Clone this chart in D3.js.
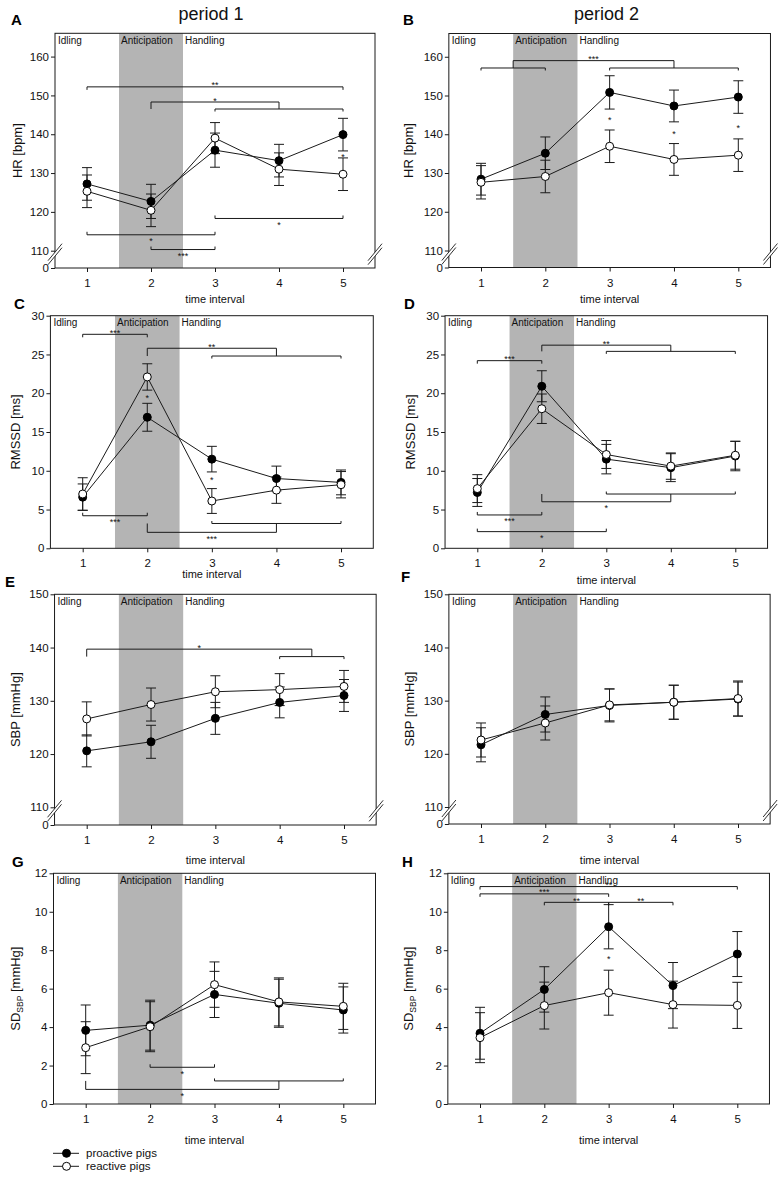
<!DOCTYPE html>
<html><head><meta charset="utf-8">
<script src="https://cdn.jsdelivr.net/npm/d3@7"></script>
<style>
body{margin:0;background:#fff}
svg{display:block}
text{font-family:"Liberation Sans",Arial,sans-serif}
</style>
</head><body><svg id="c" width="783" height="1180"></svg>
<script>
// ---------- DATA ----------
const timeIntervals = [1, 2, 3, 4, 5];
const phaseLabels = ["Idling", "Anticipation", "Handling"];
const periodTitles = ["period 1", "period 2"];
const seriesNames = ["proactive pigs", "reactive pigs"];

const hrTicks = [0, 110, 120, 130, 140, 150, 160];
const rmssdTicks = [0, 5, 10, 15, 20, 25, 30];
const sbpTicks = [0, 110, 120, 130, 140, 150];
const sdTicks = [0, 2, 4, 6, 8, 10, 12];

// HR period 1 (A)
const hrP1Pro = [127.2, 122.7, 135.9, 133.2, 139.9];
const hrP1ProSE = [4.2, 4.4, 4.4, 4.2, 4.2];
const hrP1Rea = [125.3, 120.4, 139.0, 131.0, 129.7];
const hrP1ReaSE = [4.2, 4.2, 4.0, 4.2, 4.2];
// HR period 2 (B)
const hrP2Pro = [128.4, 135.1, 150.8, 147.3, 149.6];
const hrP2ProSE = [4.1, 4.2, 4.3, 4.1, 4.2];
const hrP2Rea = [127.6, 129.1, 136.9, 133.5, 134.6];
const hrP2ReaSE = [4.3, 4.2, 4.2, 4.1, 4.2];
// RMSSD period 1 (C)
const rmP1Pro = [6.6, 16.9, 11.5, 9.0, 8.5];
const rmP1ProSE = [1.7, 1.8, 1.65, 1.6, 1.6];
const rmP1Rea = [7.0, 22.1, 6.1, 7.5, 8.2];
const rmP1ReaSE = [2.1, 1.7, 1.6, 1.7, 1.7];
// RMSSD period 2 (D)
const rmP2Pro = [7.2, 20.9, 11.5, 10.4, 11.9];
const rmP2ProSE = [1.8, 2.0, 1.9, 1.8, 1.9];
const rmP2Rea = [7.7, 18.0, 12.1, 10.6, 12.0];
const rmP2ReaSE = [1.8, 1.9, 1.8, 1.7, 1.8];
// SBP period 1 (E)
const sbpP1Pro = [120.6, 122.3, 126.7, 129.7, 131.0];
const sbpP1ProSE = [3.0, 3.1, 3.0, 2.9, 3.0];
const sbpP1Rea = [126.6, 129.3, 131.7, 132.1, 132.7];
const sbpP1ReaSE = [3.2, 3.1, 3.0, 3.0, 3.0];
// SBP period 2 (F)
const sbpP2Pro = [121.7, 127.4, 129.1, 129.7, 130.3];
const sbpP2ProSE = [3.2, 3.3, 3.1, 3.2, 3.2];
const sbpP2Rea = [122.6, 125.8, 129.2, 129.7, 130.4];
const sbpP2ReaSE = [3.2, 3.2, 3.0, 3.2, 3.3];
// SD SBP period 1 (G)
const sdP1Pro = [3.83, 4.10, 5.70, 5.24, 4.89];
const sdP1ProSE = [1.32, 1.3, 1.2, 1.25, 1.2];
const sdP1Rea = [2.93, 4.02, 6.21, 5.31, 5.08];
const sdP1ReaSE = [1.35, 1.3, 1.18, 1.25, 1.2];
// SD SBP period 2 (H)
const sdP2Pro = [3.68, 5.96, 9.22, 6.16, 7.80];
const sdP2ProSE = [1.35, 1.18, 1.15, 1.2, 1.17];
const sdP2Rea = [3.45, 5.12, 5.79, 5.17, 5.13];
const sdP2ReaSE = [1.3, 1.22, 1.17, 1.22, 1.2];

// significance brackets (l/r: interval or [from,to] group; y: level)
const hrP1Brackets = [
  {l: 1, r: 5, y: 152.2, dir: "down", label: "**"},
  {l: 2, r: [3, 5], y: 148.3, ySub: 146.5, label: "*"},
  {l: 3, r: 5, y: 118.3, dir: "up", label: "*"},
  {l: 1, r: 3, y: 114.1, dir: "up", label: "*"},
  {l: 2, r: 3, y: 110.3, dir: "up", label: "***"}
];
const hrP2Brackets = [
  {l: [1, 2], r: [3, 5], y: 159.0, ySub: 157.1, label: "***"}
];
const rmP1Brackets = [
  {l: 1, r: 2, y: 27.6, dir: "down", label: "***"},
  {l: 2, r: [3, 5], y: 25.8, ySub: 24.8, label: "**"},
  {l: 1, r: 2, y: 4.2, dir: "up", label: "***"},
  {l: 2, r: [3, 5], y: 2.06, ySub: 3.2, label: "***"}
];
const rmP2Brackets = [
  {l: 2, r: [3, 5], y: 26.2, ySub: 25.4, label: "**"},
  {l: 1, r: 2, y: 24.2, dir: "down", label: "***"},
  {l: 2, r: [3, 5], y: 6.0, ySub: 7.0, label: "*"},
  {l: 1, r: 2, y: 4.3, dir: "up", label: "***"},
  {l: 1, r: 3, y: 2.15, dir: "up", label: "*"}
];
const sbpP1Brackets = [
  {l: 1, r: [4, 5], y: 139.7, ySub: 138.3, label: "*"}
];
const sbpP2Brackets = [];
const sdP1Brackets = [
  {l: 2, r: 3, y: 1.91, dir: "up", label: "*"},
  {l: 1, r: [3, 5], y: 0.76, ySub: 1.2, label: "*"}
];
const sdP2Brackets = [
  {l: 1, r: 5, y: 11.31, dir: "down", label: "**"},
  {l: 1, r: 3, y: 10.93, dir: "down", label: "***"},
  {l: 2, r: 3, y: 10.49, dir: "down", label: "**"},
  {l: 3, r: 4, y: 10.49, dir: "down", label: "**"}
];
// group-difference markers [interval, value]
const hrP1Marks = [[5, 134.7]];
const hrP2Marks = [[3, 144.2], [4, 140.6], [5, 142.2]];
const rmP1Marks = [[2, 19.6], [3, 9.1]];
const rmP2Marks = [];
const sbpP1Marks = [];
const sbpP2Marks = [];
const sdP1Marks = [];
const sdP2Marks = [[3, 7.63]];

// ---------- DRAWING ----------
const svg = d3.select("#c");
const INK = "#1a1a1a";

function drawPanel(c) {
  const x = d3.scaleLinear().domain([1, 5]).range([c.x1, c.x5]);
  const y = d3.scaleLinear().domain(c.yDomain).range(c.yRange);
  const L = x(0.5), R = x(5.5);
  const B = c.yRange[0], T = c.yRange[c.yRange.length - 1];
  const g = svg.append("g");

  // shaded anticipation phase
  g.append("rect").attr("x", x(1.5)).attr("y", T)
    .attr("width", x(2.5) - x(1.5)).attr("height", B - T).attr("fill", "#b4b4b4");

  // phase labels
  const phaseX = [L + 3, x(1.5) + 2, x(2.5) + 2];
  g.selectAll(".ph").data(phaseLabels).enter().append("text")
    .attr("x", (d, i) => phaseX[i]).attr("y", T + 10.5)
    .attr("font-size", "10px").attr("fill", "#111").text(d => d);

  // axes
  const ya = d3.axisLeft(y).tickValues(c.ticks).tickSize(4).tickPadding(2).tickFormat(d3.format("d"));
  const yg = g.append("g").attr("transform", `translate(${L},0)`).call(ya);
  yg.select(".domain").remove();
  yg.selectAll("text").attr("font-size", "11.5px").attr("fill", "#111").attr("font-family", null);
  yg.selectAll("line").attr("stroke", INK);
  yg.attr("font-family", null);

  const xa = d3.axisBottom(x).tickValues(timeIntervals).tickSize(4).tickPadding(7).tickFormat(d3.format("d"));
  const xg = g.append("g").attr("transform", `translate(0,${B})`).call(xa);
  xg.select(".domain").remove();
  xg.selectAll("text").attr("font-size", "11.5px").attr("fill", "#111");
  xg.selectAll("line").attr("stroke", INK);
  xg.attr("font-family", null);

  // frame
  g.append("rect").attr("x", L).attr("y", T).attr("width", R - L).attr("height", B - T)
    .attr("fill", "none").attr("stroke", INK).attr("stroke-width", 1);

  // axis break marks
  if (c.broken) {
    const yc = y(c.yDomain[1]) + 3.5;
    [L, R].forEach(ax => {
      const hw = 7, hh = 8.5, off = 2;
      g.append("polygon")
        .attr("points", [[ax - hw, yc - off + hh], [ax + hw, yc - off - hh], [ax + hw, yc + off - hh], [ax - hw, yc + off + hh]].map(p => p.join(",")).join(" "))
        .attr("fill", "#fff");
      [-off, off].forEach(o => {
        g.append("line").attr("x1", ax - hw).attr("y1", yc + o + hh)
          .attr("x2", ax + hw).attr("y2", yc + o - hh)
          .attr("stroke", INK).attr("stroke-width", 0.9);
      });
    });
  }

  // brackets
  const ln = (x1, y1, x2, y2) => g.append("line").attr("x1", x1).attr("y1", y1).attr("x2", x2).attr("y2", y2)
    .attr("stroke", INK).attr("stroke-width", 1);
  c.brackets.forEach(b => {
    const mid = e => Array.isArray(e) ? (e[0] + e[1]) / 2 : e;
    const xl = mid(b.l), xr = mid(b.r);
    const py = y(b.y);
    const up = b.dir === "up" || (b.ySub !== undefined && b.ySub > b.y);
    const sgn = up ? -1 : 1;
    const pSub = b.ySub !== undefined ? y(b.ySub) : py + sgn * 3;
    ln(x(xl), py, x(xr), py);
    [b.l, b.r].forEach(e => {
      if (Array.isArray(e)) {
        const m = x(mid(e));
        ln(m, py, m, pSub);
        ln(x(e[0]), pSub, x(e[1]), pSub);
        ln(x(e[0]), pSub, x(e[0]), pSub + sgn * 2.5);
        ln(x(e[1]), pSub, x(e[1]), pSub + sgn * 2.5);
      } else {
        ln(x(e), py, x(e), pSub);
      }
    });
    g.append("text").attr("x", x((xl + xr) / 2)).attr("y", up ? py + 9.5 : py + 1.5)
      .attr("text-anchor", "middle").attr("font-size", "9px").attr("fill", "#111").text(b.label);
  });
  c.marks.forEach(m => {
    g.append("text").attr("x", x(m[0])).attr("y", y(m[1]) + 5)
      .attr("text-anchor", "middle").attr("font-size", "9px").attr("fill", "#111").text("*");
  });

  // series
  const series = [
    {v: c.pro, se: c.proSE, fill: "#000"},
    {v: c.rea, se: c.reaSE, fill: "#fff"}
  ];
  series.forEach(s => {
    const gs = g.append("g");
    s.v.forEach((v, i) => {
      const px = x(timeIntervals[i]);
      gs.append("line").attr("x1", px).attr("x2", px)
        .attr("y1", y(v - s.se[i])).attr("y2", y(v + s.se[i])).attr("stroke", INK);
      [v - s.se[i], v + s.se[i]].forEach(e => {
        gs.append("line").attr("x1", px - 5).attr("x2", px + 5)
          .attr("y1", y(e)).attr("y2", y(e)).attr("stroke", INK);
      });
    });
  });
  series.forEach(s => {
    const line = d3.line().x((d, i) => x(timeIntervals[i])).y(d => y(d));
    g.append("path").datum(s.v).attr("d", line).attr("fill", "none")
      .attr("stroke", INK).attr("stroke-width", 1);
  });
  series.forEach(s => {
    g.selectAll(null).data(s.v).enter().append("circle")
      .attr("cx", (d, i) => x(timeIntervals[i])).attr("cy", d => y(d)).attr("r", 4)
      .attr("fill", s.fill).attr("stroke", "#000").attr("stroke-width", 1);
  });

  // y axis title
  const yt = g.append("text").attr("transform", `translate(${c.ylabX},${(T + B) / 2}) rotate(-90)`)
    .attr("text-anchor", "middle").attr("font-size", "13px").attr("fill", "#111");
  if (c.sub) {
    yt.append("tspan").text("SD");
    yt.append("tspan").attr("font-size", "8.5px").attr("dy", 3).text("SBP");
    yt.append("tspan").attr("dy", -3).text(" [mmHg]");
  } else {
    yt.text(c.ylabel);
  }

  // x axis title
  g.append("text").attr("x", x(3)).attr("y", c.xtY).attr("text-anchor", "middle")
    .attr("font-size", "11px").attr("fill", "#111").text("time interval");

  // panel letter
  g.append("text").attr("x", c.letterX).attr("y", c.letterY).attr("font-size", "15px")
    .attr("font-weight", "bold").attr("fill", "#000").text(c.letter);
}

const panels = [
  {letter: "A", letterX: 11, letterY: 25, x1: 87, x5: 343, yDomain: [0, 110, 166], yRange: [268, 250.7, 33.3], ticks: hrTicks, broken: true,
   pro: hrP1Pro, proSE: hrP1ProSE, rea: hrP1Rea, reaSE: hrP1ReaSE, brackets: hrP1Brackets, marks: hrP1Marks, ylabel: "HR [bpm]", ylabX: 22, xtY: 303},
  {letter: "B", letterX: 403, letterY: 25, x1: 481, x5: 738.3, yDomain: [0, 110, 166], yRange: [267.5, 250.5, 33.5], ticks: hrTicks, broken: true,
   pro: hrP2Pro, proSE: hrP2ProSE, rea: hrP2Rea, reaSE: hrP2ReaSE, brackets: hrP2Brackets, marks: hrP2Marks, ylabel: "HR [bpm]", ylabX: 413, xtY: 303},
  {letter: "C", letterX: 14, letterY: 309, x1: 82.7, x5: 341, yDomain: [0, 30], yRange: [548.3, 315.7], ticks: rmssdTicks, broken: false,
   pro: rmP1Pro, proSE: rmP1ProSE, rea: rmP1Rea, reaSE: rmP1ReaSE, brackets: rmP1Brackets, marks: rmP1Marks, ylabel: "RMSSD [ms]", ylabX: 20, xtY: 578},
  {letter: "D", letterX: 404, letterY: 309, x1: 477.3, x5: 735.3, yDomain: [0, 30], yRange: [548.3, 315.7], ticks: rmssdTicks, broken: false,
   pro: rmP2Pro, proSE: rmP2ProSE, rea: rmP2Rea, reaSE: rmP2ReaSE, brackets: rmP2Brackets, marks: rmP2Marks, ylabel: "RMSSD [ms]", ylabX: 415, xtY: 584},
  {letter: "E", letterX: 5, letterY: 587, x1: 86.7, x5: 344, yDomain: [0, 110, 150], yRange: [825, 807.3, 594.3], ticks: sbpTicks, broken: true,
   pro: sbpP1Pro, proSE: sbpP1ProSE, rea: sbpP1Rea, reaSE: sbpP1ReaSE, brackets: sbpP1Brackets, marks: sbpP1Marks, ylabel: "SBP [mmHg]", ylabX: 20, xtY: 864},
  {letter: "F", letterX: 401, letterY: 582, x1: 481, x5: 738, yDomain: [0, 110, 150], yRange: [824, 807, 594.3], ticks: sbpTicks, broken: true,
   pro: sbpP2Pro, proSE: sbpP2ProSE, rea: sbpP2Rea, reaSE: sbpP2ReaSE, brackets: sbpP2Brackets, marks: sbpP2Marks, ylabel: "SBP [mmHg]", ylabX: 414, xtY: 864},
  {letter: "G", letterX: 12, letterY: 867, x1: 85.7, x5: 343.3, yDomain: [0, 12], yRange: [1104, 873.3], ticks: sdTicks, broken: false,
   pro: sdP1Pro, proSE: sdP1ProSE, rea: sdP1Rea, reaSE: sdP1ReaSE, brackets: sdP1Brackets, marks: sdP1Marks, sub: true, ylabX: 20, xtY: 1144},
  {letter: "H", letterX: 402, letterY: 867, x1: 480, x5: 737.3, yDomain: [0, 12], yRange: [1104, 873.3], ticks: sdTicks, broken: false,
   pro: sdP2Pro, proSE: sdP2ProSE, rea: sdP2Rea, reaSE: sdP2ReaSE, brackets: sdP2Brackets, marks: sdP2Marks, sub: true, ylabX: 413, xtY: 1144}
];
panels.forEach(drawPanel);

// period titles
svg.selectAll(".pt").data(periodTitles).enter().append("text")
  .attr("x", (d, i) => [211, 606.5][i]).attr("y", 20).attr("text-anchor", "middle")
  .attr("font-size", "18px").attr("fill", "#111").text(d => d);

// legend
const lg = svg.append("g");
seriesNames.forEach((name, i) => {
  const ly = 1153.3 + i * 13;
  lg.append("line").attr("x1", 53).attr("x2", 79).attr("y1", ly).attr("y2", ly).attr("stroke", INK);
  lg.append("circle").attr("cx", 66.5).attr("cy", ly).attr("r", 4)
    .attr("fill", i === 0 ? "#000" : "#fff").attr("stroke", "#000");
  lg.append("text").attr("x", 86).attr("y", ly + 4).attr("font-size", "11.5px").attr("fill", "#111").text(name);
});
</script>
</body></html>
